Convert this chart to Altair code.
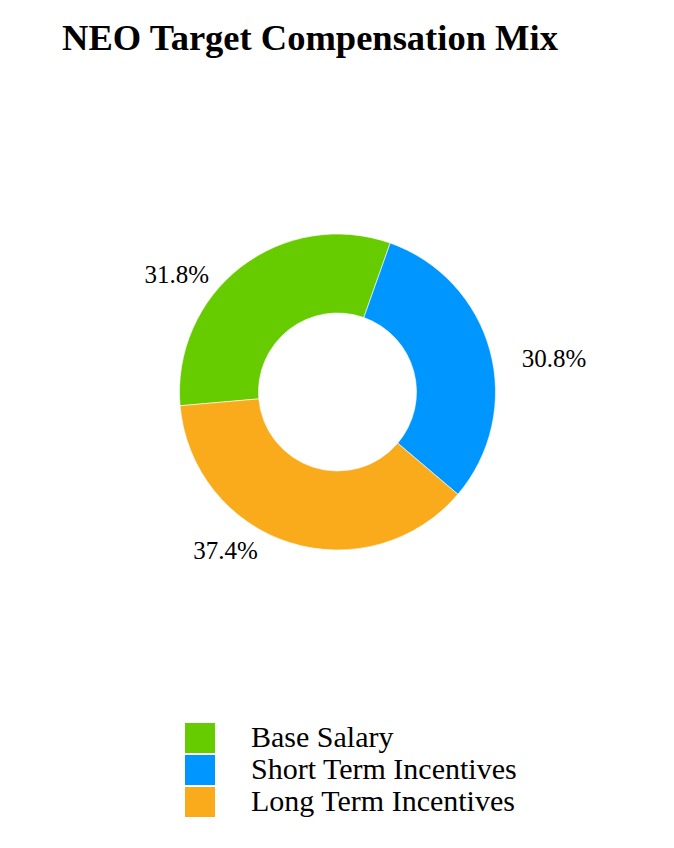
import altair as alt
import pandas as pd

categories = ["Base Salary", "Short Term Incentives", "Long Term Incentives"]
shares = [31.8, 30.8, 37.4]
order_idx = [0, 1, 2]
colors = ["#66CC00", "#0096FF", "#FAAB1C"]

START = -1.658  # radians, start angle of the first slice (measured from 12 o'clock)
SERIF = "Liberation Serif"

df = pd.DataFrame({"category": categories, "share": shares, "idx": order_idx})

base = alt.Chart(df).transform_joinaggregate(
    total="sum(share)"
).transform_window(
    cum="sum(share)", sort=[alt.SortField("idx")], frame=[None, 0]
).transform_calculate(
    mid="(datum.cum - datum.share / 2) / datum.total",
    side=f"sin({START} + 2 * PI * datum.mid) >= 0 ? 1 : -1",
    label="format(datum.share, '.1f') + '%'",
)

theta = alt.Theta("share:Q", stack=True,
                  scale=alt.Scale(range=[START, START + 6.283185307]))
color = alt.Color(
    "category:N",
    scale=alt.Scale(domain=categories, range=colors),
    sort=categories,
    legend=alt.Legend(
        title=None, orient="none", legendX=185, legendY=648,
        symbolType="square", symbolSize=900, symbolStrokeWidth=0,
        labelFont=SERIF, labelFontSize=30, labelColor="#000000",
        labelOffset=36, rowPadding=2, symbolOpacity=1, labelLimit=500,
    ),
)

arcs = base.mark_arc(innerRadius=79, outerRadius=158, stroke="#ffffff", strokeWidth=0.6).encode(
    theta=theta,
    color=color,
    order=alt.Order("idx:Q"),
    x=alt.value(337.5),
    y=alt.value(317),
)

labels = base.mark_text(
    font=SERIF, fontSize=25, color="#000000",
    align="center", baseline="middle", dy=8,
    dx=alt.expr("datum.side * 64"),
).encode(
    theta=theta,
    order=alt.Order("idx:Q"),
    radius=alt.value(158),
    text="label:N",
    x=alt.value(337.5),
    y=alt.value(317),
)

chart = alt.layer(arcs, labels).properties(
    width=674, height=773,
    padding={"top": 75, "left": 0, "right": 0, "bottom": 0},
    autosize=alt.AutoSizeParams(type="none"),
    title=alt.Title("NEO Target Compensation Mix", font=SERIF,
                    fontSize=36.5, fontWeight="bold", color="#000000",
                    anchor="middle", offset=18, dx=-27),
).configure_view(stroke=None)

chart.save("out.html", embed_options={"renderer": "svg", "actions": False})
